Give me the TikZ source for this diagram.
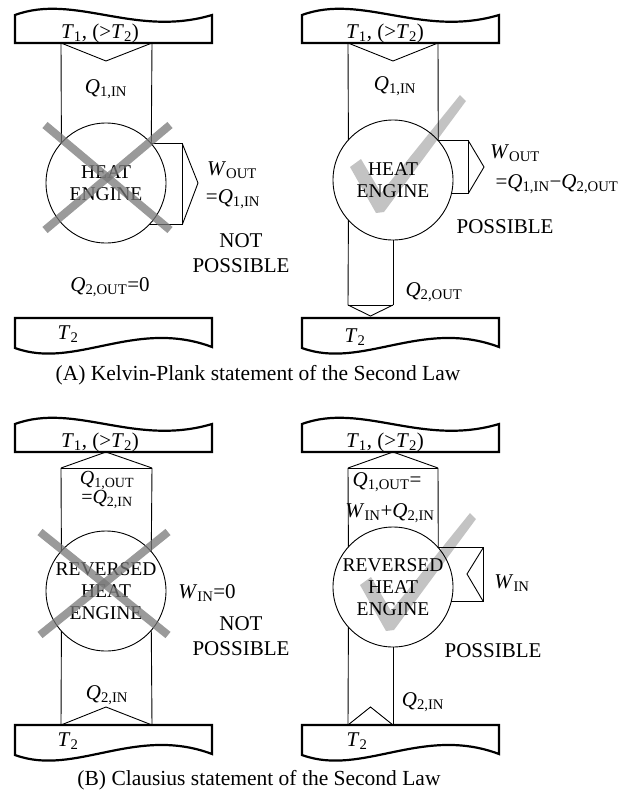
\documentclass[tikz,border=0pt]{standalone}
\usepackage{fontspec}
\setmainfont{Liberation Serif}
\usetikzlibrary{calc}
\definecolor{markGrey}{RGB}{120,120,120}
\definecolor{tickGrey}{RGB}{175,175,175}

\newcommand{\lowidx}[1]{\textsubscript{#1}}
\newcommand{\hotlbl}{\textit{T}\lowidx{1}, (>\textit{T}\lowidx{2})}
\newcommand{\coldlbl}{\textit{T}\lowidx{2}}

% hot reservoir, (x,y) = bottom left corner
\newcommand{\hotres}[2]{\draw[res, shift={(#1,#2)}] (0,0) -- (0,-28)
  .. controls (60,-50) and (120,-5) .. (197,-28) -- (197,0) -- cycle;}
% cold reservoir, (x,y) = top left corner
\newcommand{\coldres}[2]{\draw[res, shift={(#1,#2)}] (0,0) -- (197,0) -- (197,29)
  .. controls (120,0) and (60,52) .. (0,30) -- cycle;}
% tick mark, shifted
\newcommand{\tickmk}[2]{\fill[tickGrey, opacity=0.75, shift={(#1,#2)}]
  (350,167) -- (361,159) -- (381,193) -- (460,95) -- (466,101) -- (384,212) -- (376,213) -- cycle;}

\begin{document}
\begin{tikzpicture}[x=1pt, y=-1pt,
    res/.style={line width=2.2pt, line join=miter},
    flow/.style={line width=0.9pt},
    eng/.style={circle, draw, line width=0.9pt, minimum size=120pt, inner sep=0pt,
      outer sep=0pt, align=center, font=\fontsize{19.5}{22}\selectfont},
    lbl/.style={inner sep=0pt, align=center, font=\fontsize{21}{25}\selectfont},
    tightlbl/.style={lbl, font=\fontsize{20}{17}\selectfont},
    capt/.style={inner sep=0pt, font=\fontsize{21.5}{25}\selectfont},
    crossbar/.style={markGrey, line width=8pt, opacity=0.75}]
  \useasboundingbox (0,0) rectangle (638,796);

  % ---------- (A) left: not possible
  \hotres{15}{43}
  \coldres{15}{318}
  \node[lbl] (hotAL) at (100,33) {\hotlbl};
  \node[lbl] (coldAL) at (68,334) {\coldlbl};
  \node[eng] (engAL) at (106,183) {HEAT\\ENGINE};
  \coordinate (tipAL) at (106,61);
  \draw[flow] (61,43) -- (engAL.138.6);
  \draw[flow] (152,43) -- (engAL.41.4);
  \draw[flow] (61,43) -- (tipAL) -- (152,43);
  \draw[flow] (engAL.41.4) -- ++(31,0) coordinate (wAL) -- (engAL.-44.4 -| wAL) coordinate (wAL2) -- (engAL.-44.4);
  \draw[flow] (wAL) -- (198,183) -- (wAL2);
  \node[lbl] (qinAL) at (106,89) {\textit{Q}\lowidx{1,IN}};
  \node[lbl] (woutAL) at (232,170) {\textit{W}\lowidx{OUT}};
  \node[lbl] (weqAL) at (233,199) {=\textit{Q}\lowidx{1,IN}};
  \node[lbl] (notAL) at (241,253) {NOT\\POSSIBLE};
  \node[lbl] (qoutAL) at (110,287) {\textit{Q}\lowidx{2,OUT}=0};
  \draw[crossbar] (45,125) -- (170,230);
  \draw[crossbar] (170,125) -- (45,230);

  % ---------- (A) right: possible
  \tickmk{0}{0}
  \hotres{302}{43}
  \coldres{302}{318}
  \node[lbl] (hotAR) at (385,33) {\hotlbl};
  \node[lbl] (coldAR) at (355,337) {\coldlbl};
  \node[eng] (engAR) at (393,180) {HEAT\\ENGINE};
  \coordinate (tipAR) at (393,61);
  \draw[flow] (348,43) -- (engAR.138.6);
  \draw[flow] (438,43) -- (engAR.41.4);
  \draw[flow] (348,43) -- (tipAR) -- (438,43);
  \draw[flow] (engAR.41.4) -- ++(30,0) coordinate (wAR) -- (engAR.-13.5 -| wAR) coordinate (wAR2) -- (engAR.-13.5);
  \draw[flow] (wAR) -- (484,167) -- (wAR2);
  \coordinate (botAR) at (348,305);
  \coordinate (tipBotAR) at (370.5,316);
  \draw[flow] (engAR.-138.6) -- (botAR);
  \draw[flow] (engAR.south) -- (393,305);
  \draw[flow] (botAR) -- (393,305);
  \draw[flow] (botAR) -- (tipBotAR) -- (393,305);
  \node[lbl] (qinAR) at (395,86) {\textit{Q}\lowidx{1,IN}};
  \node[lbl] (woutAR) at (515,153) {\textit{W}\lowidx{OUT}};
  \node[lbl] (weqAR) at (557,184) {=\textit{Q}\lowidx{1,IN}−\textit{Q}\lowidx{2,OUT}};
  \node[lbl] (okAR) at (505,227) {POSSIBLE};
  \node[lbl] (qoutAR) at (434,292) {\textit{Q}\lowidx{2,OUT}};

  \node[capt] (captA) at (258,375) {(A) Kelvin-Plank statement of the Second Law};

  % ---------- (B) left: not possible
  \hotres{15}{452}
  \coldres{15}{725}
  \node[lbl] (hotBL) at (100,442) {\hotlbl};
  \node[lbl] (coldBL) at (68,741) {\coldlbl};
  \node[eng] (engBL) at (106,591) {REVERSED\\HEAT\\ENGINE};
  \coordinate (tipBL) at (106,452);
  \coordinate (tipBotBL) at (106,707);
  \draw[flow] (61,468) -- (engBL.138.6);
  \draw[flow] (152,468) -- (engBL.41.4);
  \draw[flow] (61,468) -- (152,468);
  \draw[flow] (61,468) -- (tipBL) -- (152,468);
  \draw[flow] (engBL.-138.6) -- (61,725);
  \draw[flow] (engBL.-41.4) -- (152,725);
  \draw[flow] (61,725) -- (tipBotBL) -- (152,725);
  \node[tightlbl] (qoutBL) at (107,490) {\textit{Q}\lowidx{1,OUT}\\=\textit{Q}\lowidx{2,IN}};
  \node[lbl] (winBL) at (207,593) {\textit{W}\lowidx{IN}=0};
  \node[lbl] (notBL) at (241,636) {NOT\\POSSIBLE};
  \node[lbl] (qinBL) at (107,695) {\textit{Q}\lowidx{2,IN}};
  \draw[crossbar] (40,532) -- (168,635);
  \draw[crossbar] (168,532) -- (40,635);

  % ---------- (B) right: possible
  \tickmk{10}{418}
  \hotres{302}{452}
  \coldres{302}{725}
  \node[lbl] (hotBR) at (385,442) {\hotlbl};
  \node[lbl] (coldBR) at (357,741) {\coldlbl};
  \node[eng] (engBR) at (393,587) {REVERSED\\HEAT\\ENGINE};
  \coordinate (tipBR) at (393,452);
  \coordinate (tipBotBR) at (370.5,707);
  \draw[flow] (348,468) -- (engBR.138.6);
  \draw[flow] (438,468) -- (engBR.41.4);
  \draw[flow] (348,468) -- (438,468);
  \draw[flow] (348,468) -- (tipBR) -- (438,468);
  \draw[flow] (engBR.41.4) -- ++(45,0) coordinate (wBR) -- (engBR.-14.5 -| wBR) coordinate (wBR2) -- (engBR.-14.5);
  \draw[flow] (wBR) -- (467,574) -- (wBR2);
  \draw[flow] (engBR.-138.6) -- (348,725);
  \draw[flow] (engBR.south) -- (393,725);
  \draw[flow] (348,725) -- (tipBotBR) -- (393,725);
  \node[lbl] (qoutBR) at (387,482) {\textit{Q}\lowidx{1,OUT}=};
  \node[lbl] (qsumBR) at (390,513) {\textit{W}\lowidx{IN}+\textit{Q}\lowidx{2,IN}};
  \node[lbl] (winBR) at (512,583) {\textit{W}\lowidx{IN}};
  \node[lbl] (okBR) at (493,651) {POSSIBLE};
  \node[lbl] (qinBR) at (423,702) {\textit{Q}\lowidx{2,IN}};

  \node[capt] (captB) at (259,780) {(B) Clausius statement of the Second Law};
\end{tikzpicture}
\end{document}
